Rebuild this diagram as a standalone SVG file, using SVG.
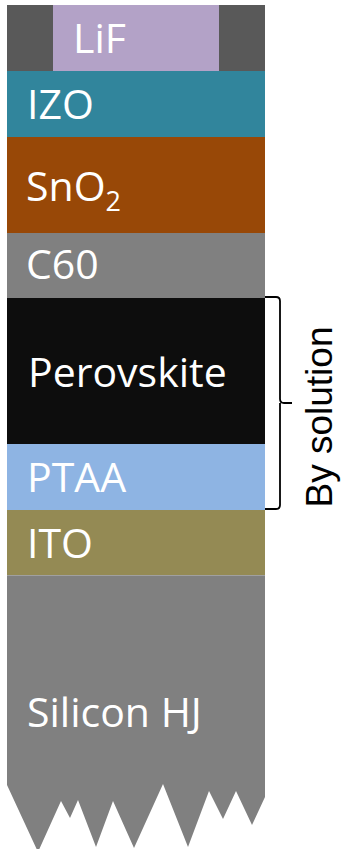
<svg xmlns="http://www.w3.org/2000/svg" width="341" height="849" viewBox="0 0 341 849">
<style>
.lbl{font-family:"Open Sans","Liberation Sans",sans-serif;font-size:41px;fill:#ffffff}
.side{font-family:"Liberation Sans",Arial,sans-serif;font-size:37px;fill:#000000}
.br{fill:none;stroke:#000000;stroke-width:1.8;stroke-linejoin:round}
</style>
<rect width="341" height="849" fill="#ffffff"/>
<g id="lif">
<rect x="7" y="5" width="258" height="66" fill="#595959"/>
<rect x="53" y="5" width="166" height="66" fill="#B3A2C7"/>
<text class="lbl" x="73" y="53">LiF</text>
</g>
<g id="izo">
<rect x="7" y="71" width="258" height="66" fill="#31859C"/>
<text class="lbl" x="27" y="119">IZO</text>
</g>
<g id="sno2">
<rect x="7" y="137" width="258" height="96" fill="#984807"/>
<text class="lbl" x="26" y="201">SnO<tspan font-size="27" dy="10">2</tspan></text>
</g>
<g id="c60">
<rect x="7" y="233" width="258" height="65" fill="#808080"/>
<text class="lbl" x="26" y="279">C60</text>
</g>
<g id="perovskite">
<rect x="7" y="298" width="258" height="146" fill="#0D0D0D"/>
<text class="lbl" x="28" y="387">Perovskite</text>
</g>
<g id="ptaa">
<rect x="7" y="444" width="258" height="66" fill="#8EB4E3"/>
<text class="lbl" x="27" y="492">PTAA</text>
</g>
<g id="ito">
<rect x="7" y="510" width="258" height="65" fill="#948A54"/>
<text class="lbl" x="27" y="558">ITO</text>
</g>
<g id="silicon">
<path d="M7,575 H265 V797 L252,825 L236,791 L223,819 L209,791 L188,847 L163,784 L134,848 L113,801 L96,847 L78,800 L70,818 L61,801 L38,852 L7,785 Z" fill="#808080"/>
<line x1="7" y1="575.5" x2="265" y2="575.5" stroke="#A0A0A0" stroke-width="1"/>
<text class="lbl" x="27" y="727">Silicon HJ</text>
</g>
<g id="connectors">
<path class="br" d="M265,297 H276 Q280,297 280,301 V399 Q280,403 284,403 H292 M280,403 Q280,403 280,407 V505 Q280,509 276,509 H265"/>
</g>
<g id="label-solution">
<text class="side" transform="translate(332,417) rotate(-90)" text-anchor="middle">By solution</text>
</g>
</svg>
